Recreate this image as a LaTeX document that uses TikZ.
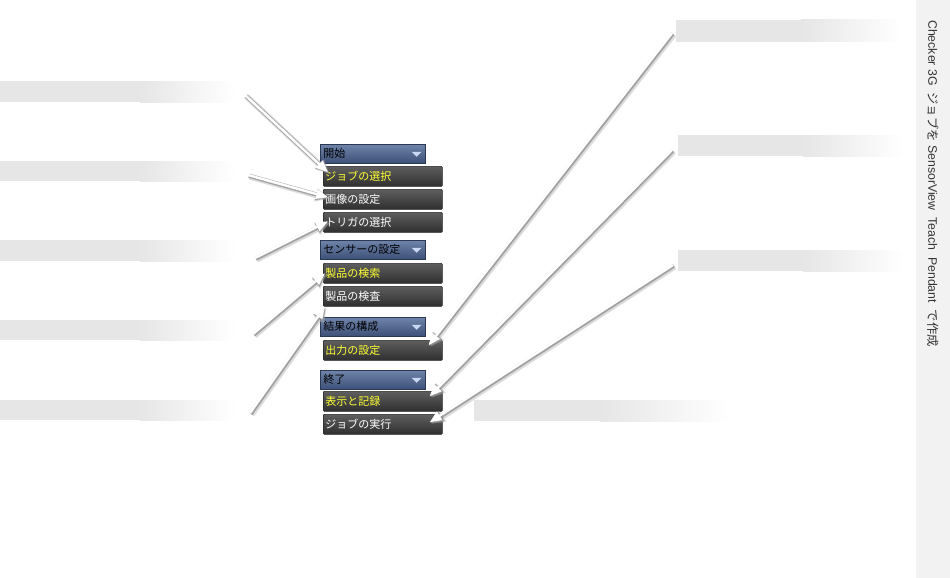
\documentclass[tikz,border=0pt]{standalone}
\usepackage{fontspec}
\setmainfont{Liberation Sans}
\newfontfamily\jp{Noto Sans CJK JP}
\usetikzlibrary{arrows.meta,calc}
\definecolor{barc}{HTML}{E6E6E6}
\definecolor{sidec}{HTML}{F2F2F2}
\definecolor{hdrtop}{HTML}{6F84AA}
\definecolor{hdrbot}{HTML}{3D5077}
\definecolor{btntop}{HTML}{5E5E5E}
\definecolor{btnbot}{HTML}{2F2F2F}
\definecolor{yel}{HTML}{FFFF33}
\definecolor{ddc}{HTML}{C9D8F2}
\tikzset{
  hdr/.style={rectangle, top color=hdrtop, bottom color=hdrbot, draw=hdrbot!70!black,
    line width=0.6pt, text width=99pt, align=left, inner xsep=3pt, inner ysep=0pt,
    minimum height=19pt, font=\jp\fontsize{11}{12}\selectfont, text=black, anchor=north west},
  btn/.style={rectangle, rounded corners=1pt, top color=btntop, bottom color=btnbot,
    draw=black!85, line width=0.6pt, text width=115pt, align=left, inner xsep=2pt, inner ysep=0pt,
    minimum height=20pt, font=\jp\fontsize{11}{12}\selectfont, text=white, anchor=north west},
  ybtn/.style={btn, text=yel},
  arrshadow/.style={draw=black!30, line width=6pt, opacity=0.45,
    -{Triangle[length=14pt,width=12pt]}, transform canvas={shift={(1.6pt,-1.6pt)}}},
  arroutline/.style={draw=black!42, line width=4pt, opacity=0.8,
    -{Triangle[length=13pt,width=11pt]}, transform canvas={shift={(0.8pt,-0.8pt)}}},
  arrmain/.style={draw=white, line width=2.4pt, -{Triangle[length=12pt,width=9.5pt,fill=white]}},
}
\newcommand\pointer[2]{\draw[arrshadow] #1 -- #2; \draw[arroutline] #1 -- #2; \draw[arrmain] #1 -- #2;}
\newcommand\leftbar[2]{\fill[barc] (0,#1) rectangle (140,#2);
  \shade[left color=barc, right color=white] (140,#1) rectangle (235,#2);}
\newcommand\rightbar[3]{\fill[barc] (#1,#2) rectangle ($(#1,#3)+(125,0)$);
  \shade[left color=barc, right color=white] ($(#1,#2)+(125,0)$) rectangle ($(#1,#3)+(225,0)$);}
\begin{document}
\begin{tikzpicture}[x=1pt, y=-1pt]
\useasboundingbox (0,0) rectangle (950,578);
\fill[white] (0,0) rectangle (950,578);
\fill[sidec] (916,0) rectangle (950,578);
% bars
\leftbar{81}{102}
\leftbar{161}{181}
\leftbar{240}{261}
\leftbar{320}{340}
\leftbar{400}{420}
\rightbar{676}{20}{42}
\rightbar{678}{135}{156}
\rightbar{678}{250}{271}
\fill[barc] (474,400) rectangle (600,421);
\shade[left color=barc, right color=white] (600,400) rectangle (730,421);
% title
\node[rotate=-90, anchor=west, inner sep=0pt, text=black!80, font=\fontsize{12.3}{14}\selectfont] (title) at (933,20)
  {Checker 3G \ {\jp ジョブを}\ SensorView \ Teach \ Pendant \ {\jp で作成}};
% menu
\node[hdr] (h1) at (320,144) {開始};
\node[ybtn] (b1) at (323,166) {ジョブの選択};
\node[btn] (b2) at (323,189) {画像の設定};
\node[btn] (b3) at (323,212) {トリガの選択};
\node[hdr] (h2) at (320,240) {センサーの設定};
\node[ybtn] (b4) at (323,263) {製品の検索};
\node[btn] (b5) at (323,286) {製品の検査};
\node[hdr] (h3) at (320,317) {結果の構成};
\node[ybtn] (b6) at (323,340) {出力の設定};
\node[hdr] (h4) at (320,370) {終了};
\node[ybtn] (b7) at (323,391) {表示と記録};
\node[btn] (b8) at (323,414) {ジョブの実行};
\foreach \h in {h1,h2,h3,h4}{
  \fill[ddc] ($(\h.east)+(-14,-2)$) -- ++(10,0) -- ++(-5,5) -- cycle;
}
% pointer tails
\coordinate (t1) at (245,95);
\coordinate (t2) at (248,175);
\coordinate (t3) at (255,258);
\coordinate (t4) at (253,334);
\coordinate (t5) at (250,413);
\coordinate (t6) at (672,33);
\coordinate (t7) at (672,150);
\coordinate (t8) at (673,265);
\pointer{(t1)}{($(b1.west)+(5,-4)$)}
\pointer{(t2)}{($(b2.west)+(5,-2)$)}
\pointer{(t3)}{($(b3.west)+(5,-1)$)}
\pointer{(t4)}{($(b4.west)+(2,0)$)}
\pointer{(t5)}{($(b5.south west)+(2,0)$)}
\pointer{(t6)}{($(b6.east)+(-14,-5)$)}
\pointer{(t7)}{($(b7.east)+(-13,-5)$)}
\pointer{(t8)}{($(b8.east)+(-13,-2)$)}
\end{tikzpicture}
\end{document}
